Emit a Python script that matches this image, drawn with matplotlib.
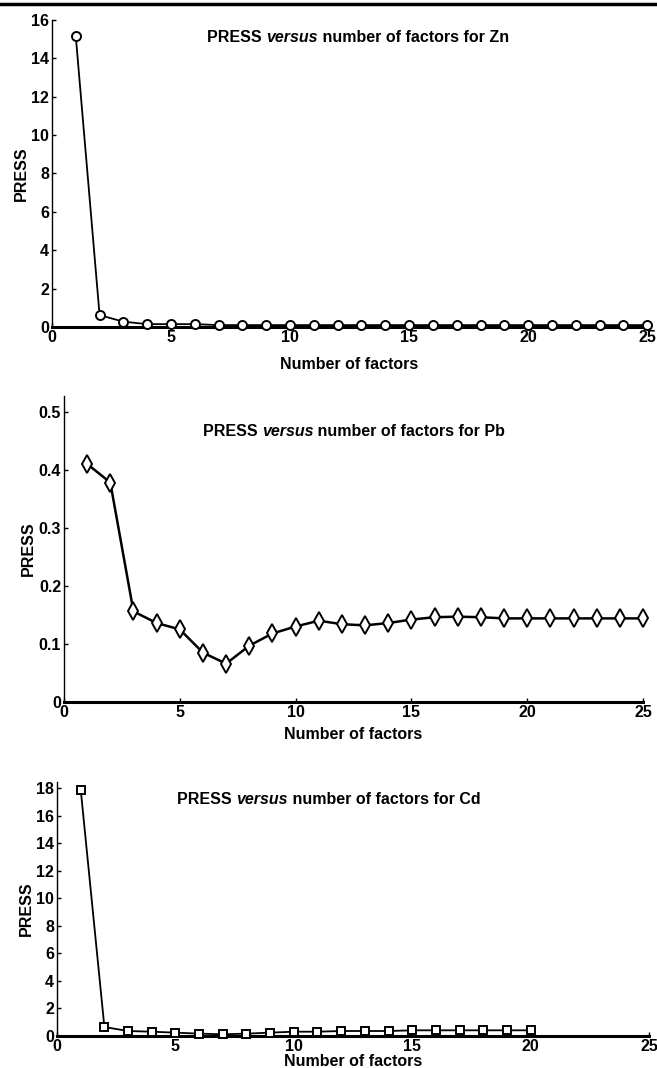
import matplotlib
matplotlib.use("Agg")
import matplotlib.pyplot as plt
from matplotlib.lines import Line2D
from matplotlib.offsetbox import TextArea, HPacker, AnchoredOffsetbox
from matplotlib import font_manager

# police etroite si elle existe
noms = set(f.name for f in font_manager.fontManager.ttflist)
if "Liberation Sans Narrow" in noms:
    police = "Liberation Sans Narrow"
else:
    police = "Liberation Sans"
plt.rcParams["font.family"] = [police, "DejaVu Sans"]
plt.rcParams["font.weight"] = "bold"

facteurs = list(range(1, 26))
press_zn = [15.15, 0.62, 0.28, 0.15, 0.15, 0.15, 0.1, 0.1, 0.1, 0.1, 0.1, 0.1, 0.1,
            0.1, 0.1, 0.1, 0.1, 0.1, 0.1, 0.1, 0.1, 0.1, 0.1, 0.1, 0.1]
press_pb = [0.410, 0.378, 0.156, 0.136, 0.125, 0.085, 0.066, 0.097, 0.118, 0.130,
            0.140, 0.134, 0.132, 0.136, 0.142, 0.146, 0.147, 0.146, 0.144, 0.144,
            0.144, 0.144, 0.144, 0.144, 0.144]
facteurs_cd = list(range(1, 21))
press_cd = [17.9, 0.65, 0.36, 0.31, 0.24, 0.17, 0.12, 0.17, 0.24, 0.31,
            0.31, 0.36, 0.36, 0.36, 0.41, 0.41, 0.41, 0.41, 0.41, 0.41]

fig = plt.figure(figsize=(6.57, 10.68), dpi=100)
fig.add_artist(Line2D([0, 1], [0.9965, 0.9965], color="black", lw=2.5))


def titre(ax, metal, x, y):
    morceaux = [TextArea("PRESS ", textprops=dict(fontsize=11.5, fontweight="bold")),
                TextArea("versus", textprops=dict(fontsize=11.5, fontweight="bold", style="italic")),
                TextArea(" number of factors for " + metal, textprops=dict(fontsize=11.5, fontweight="bold"))]
    boite = HPacker(children=morceaux, align="baseline", pad=0, sep=0)
    anc = AnchoredOffsetbox(loc="center", child=boite, frameon=False, pad=0,
                            bbox_to_anchor=(x, y), bbox_transform=fig.transFigure, borderpad=0)
    ax.add_artist(anc)


def panneau(rect, x, y, marker, ms, lw, ylim, yticks, yfmt, metal, tx, ty, lpad):
    ax = fig.add_axes(rect)
    ax.plot(x, y, color="black", lw=lw, marker=marker, ms=ms, mfc="white",
            mec="black", mew=1.4, clip_on=False, zorder=3)
    ax.set_xlim(0, 25)
    ax.set_ylim(*ylim)
    ax.set_xticks([0, 5, 10, 15, 20, 25])
    ax.set_yticks(yticks)
    ax.set_yticklabels([yfmt(v) for v in yticks])
    ax.spines["top"].set_visible(False)
    ax.spines["right"].set_visible(False)
    ax.spines["bottom"].set_linewidth(2.2)
    ax.spines["left"].set_linewidth(1.0)
    ax.tick_params(direction="in", length=3, width=1, labelsize=11.5, pad=2)
    for lab in ax.get_xticklabels() + ax.get_yticklabels():
        lab.set_fontweight("bold")
    ax.set_xlabel("Number of factors", fontsize=11.5, fontweight="bold", labelpad=lpad)
    ax.set_ylabel("PRESS", fontsize=11.5, fontweight="bold", labelpad=2)
    titre(ax, metal, tx, ty)
    return ax


panneau([0.0791, 0.6938, 0.906, 0.2875], facteurs, press_zn, "o", 6.5, 1.3, (0, 16),
        [0, 2, 4, 6, 8, 10, 12, 14, 16], lambda v: "%d" % v, "Zn",
        358 / 657, 1 - 37 / 1068, 9)
panneau([0.0974, 0.3427, 0.8813, 0.2865], facteurs, press_pb, "d", 9, 1.8, (0, 0.527),
        [0, 0.1, 0.2, 0.3, 0.4, 0.5], lambda v: "0" if v == 0 else "%.1f" % v, "Pb",
        354 / 657, 1 - 432 / 1068, 5)
panneau([0.0868, 0.0300, 0.901, 0.2378], facteurs_cd, press_cd, "s", 6, 1.3, (0, 18.45),
        [0, 2, 4, 6, 8, 10, 12, 14, 16, 18], lambda v: "%d" % v, "Cd",
        329 / 657, 1 - 799 / 1068, 0)

fig.savefig("out.png", dpi=100)
